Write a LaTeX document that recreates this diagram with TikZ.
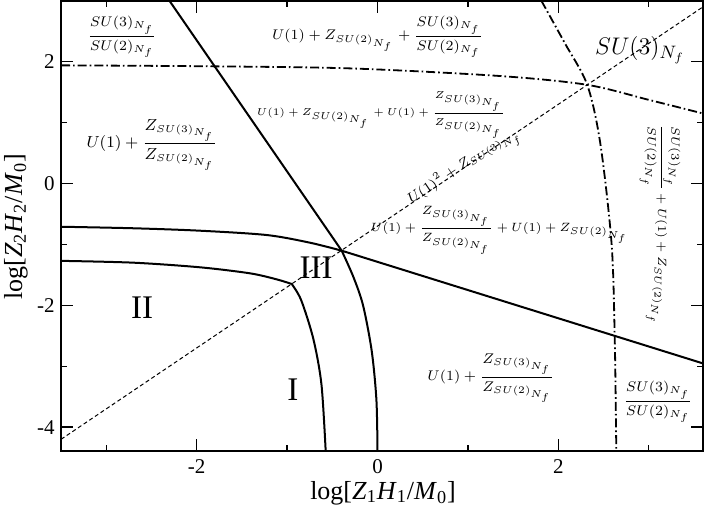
\documentclass[tikz,border=0pt]{standalone}
\usepackage{amsmath}
\usepackage{fontspec}
\setmainfont{Liberation Serif}
\newcommand{\SUthree}{SU(3)_{N_f}}
\newcommand{\SUtwo}{SU(2)_{N_f}}
\newcommand{\Zfrac}{\dfrac{Z_{\SUthree}}{Z_{\SUtwo}}}
\newcommand{\SUfrac}{\dfrac{\SUthree}{\SUtwo}}
\tikzset{
  frame/.style={line width=1pt},
  tickmark/.style={line width=0.7pt},
  boundary/.style={line width=1pt},
  crossover/.style={line width=0.5pt, dash pattern=on 2pt off 1.4pt},
  transition/.style={line width=0.9pt, dash pattern=on 4.5pt off 1.5pt on 0.8pt off 1.5pt},
  ticklab/.style={font=\fontsize{10.5}{12}\selectfont, inner sep=0pt},
  axlab/.style={font=\fontsize{13}{15}\selectfont, inner sep=0pt},
  region/.style={font=\fontsize{16.5}{18}\selectfont, inner sep=0pt},
  lbl/.style={font=\fontsize{#1}{#1}\selectfont, inner sep=0pt}
}

\begin{document}
\begin{tikzpicture}[x=45.2pt, y=30.45pt]
  \useasboundingbox (-4.1759,-5.3777) rectangle (3.6338,3.0131);
  \coordinate (triple) at (-0.396,-1.103);
  \coordinate (corner) at (-0.949,-1.650);
  \coordinate (cross) at (2.32,1.62);

  % phase boundaries
  \begin{scope}
    \clip (-3.5,-4.4) rectangle (3.6,3);
    \draw[crossover] (-3.5,-4.2) -- (3.6,2.9);
    \draw[transition] plot[smooth] coordinates {(-3.5,1.94) (-1.9,1.925) (-0.3,1.89) (1.355,1.765) (cross) (3.01,1.37) (3.6,1.15)};
    \draw[transition] plot[smooth] coordinates {(1.813,3.0) (2.07,2.31) (cross) (2.465,0.655) (2.59,-1.0) (2.625,-2.6) (2.64,-4.2) (2.641,-4.4)};
    \draw[boundary] plot[smooth] coordinates {(-3.5,-0.71) (-2.7,-0.735) (-1.963,-0.775) (-1.226,-0.846) (-0.747,-0.972) (triple)};
    \draw[boundary] plot[smooth] coordinates {(triple) (-0.268,-1.53) (-0.16,-2.0) (-0.064,-2.75) (-0.012,-3.555) (0,-4.4)};
    \draw[boundary] plot[smooth] coordinates {(-3.5,-1.27) (-2.7,-1.30) (-1.963,-1.376) (-1.41,-1.475) (-1.115,-1.574) (corner)};
    \draw[boundary] plot[smooth] coordinates {(corner) (-0.845,-1.913) (-0.71,-2.55) (-0.62,-3.3) (-0.573,-4.4)};
    \draw[boundary] (-2.301,3.0) -- (triple);
    \draw[boundary] (triple) -- (3.6,-2.954);
  \end{scope}

  % frame and ticks
  \draw[frame] (-3.5,-4.4) rectangle (3.6,3);
  \foreach \x in {-2,0,2} {
    \draw[tickmark] (\x,-4.4) -- ++(0,6pt);
    \draw[tickmark] (\x,3) -- ++(0,-6pt);
    \node[ticklab] (xt\x) at (\x,-4.655) {\x};
  }
  \foreach \x in {-3,-1,1,3} {
    \draw[tickmark] (\x,-4.4) -- ++(0,3pt);
    \draw[tickmark] (\x,3) -- ++(0,-3pt);
  }
  \foreach \y in {-4,-2,0,2} {
    \draw[tickmark] (-3.5,\y) -- ++(6pt,0);
    \draw[tickmark] (3.6,\y) -- ++(-6pt,0);
    \node[ticklab, anchor=east, xshift=-3pt] (yt\y) at (-3.5,\y) {\y};
  }
  \foreach \y in {-3,-1,1} {
    \draw[tickmark] (-3.5,\y) -- ++(3pt,0);
    \draw[tickmark] (3.6,\y) -- ++(-3pt,0);
  }
  \node[axlab] (xlab) at (0.061,-5.082) {log[\textit{Z}\textsubscript{1}\textit{H}\textsubscript{1}/\textit{M}\textsubscript{0}]};
  \node[axlab, rotate=90] (ylab) at (-3.999,-0.714) {log[\textit{Z}\textsubscript{2}\textit{H}\textsubscript{2}/\textit{M}\textsubscript{0}]};

  % phase labels
  \node[lbl=7.0] (topleft) at (-2.826,2.406) {$\SUfrac$};
  \node[lbl=7.2] (topmid) at (0.0,2.406) {$U(1)+Z_{\SUtwo}+\SUfrac$};
  \node[lbl=4.2] (upmid) at (0.04,1.125) {$U(1)+Z_{\SUtwo}+U(1)+\Zfrac$};
  \node[lbl=7.6] (leftmid) at (-2.494,0.632) {$U(1)+\Zfrac$};
  \node[lbl=12.2] (topright) at (2.904,2.19) {$\SUthree$};
  \node[lbl=6.8, rotate=34] (diag) at (0.968,0.268) {$U(1)^2+Z_{\SUthree}$};
  \node[lbl=5.6] (centre) at (1.355,-0.764) {$U(1)+\Zfrac+U(1)+Z_{\SUtwo}$};
  \node[lbl=6.4, rotate=-90] (rightmid) at (3.125,-0.681) {$\SUfrac+U(1)+Z_{\SUtwo}$};
  \node[lbl=7.4] (botmid) at (1.256,-3.194) {$U(1)+\Zfrac$};
  \node[lbl=6.8] (botright) at (3.103,-3.588) {$\SUfrac$};
  \node[region] (regII) at (-2.605,-2.044) {II};
  \node[region] (regI) at (-0.935,-3.391) {I};
  \node[region] (regIII) at (-0.680,-1.388) {III};
\end{tikzpicture}
\end{document}
